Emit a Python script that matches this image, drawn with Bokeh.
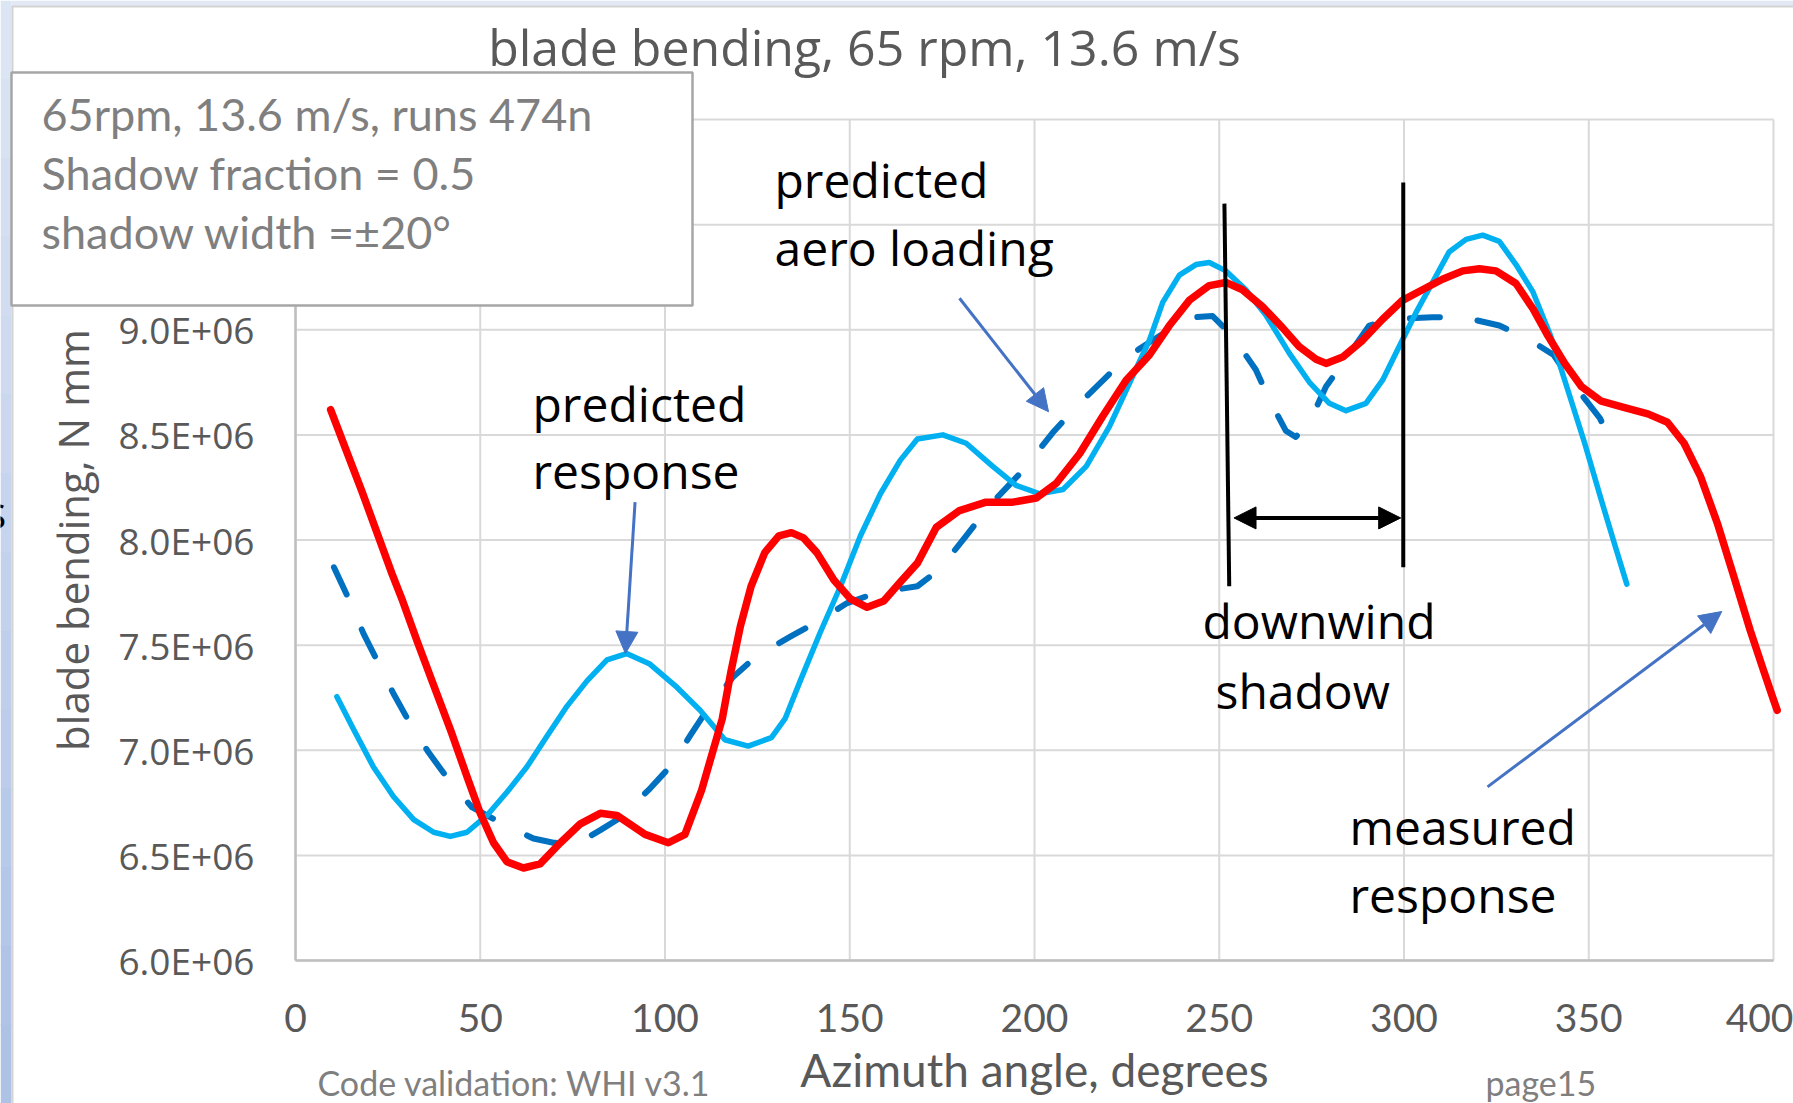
from bokeh.plotting import figure
from bokeh.models import (Range1d, FixedTicker, Arrow, NormalHead, CustomJSTickFormatter)
from bokeh.core.properties import value
from bokeh.embed import file_html
from bokeh.resources import INLINE

# ---------------- data ----------------
measured_x = [9.5, 18.0, 26.1, 29.0, 32.9, 37.8, 42.3, 46.4, 50.0, 53.6, 57.2, 61.7, 66.2,
              71.7, 77.1, 82.5, 87.0, 94.6, 100.9, 105.4, 109.9, 115.5, 117.8, 120.4, 123.3,
              127.0, 130.8, 134.2, 137.5, 141.1, 145.7, 150.2, 154.7, 159.2, 163.7, 168.3,
              173.4, 179.7, 186.9, 194.1, 200.5, 205.9, 212.2, 218.5, 224.8, 231.1, 236.5,
              241.9, 247.3, 251.8, 256.3, 261.7, 267.1, 271.6, 276.2, 278.9, 283.4, 288.8,
              294.2, 299.6, 305.0, 310.4, 315.9, 320.4, 324.9, 330.3, 334.9, 339.0, 343.5,
              348.0, 353.4, 359.7, 366.0, 371.3, 375.8, 380.3, 384.8, 389.2, 393.7, 397.3,
              400.0, 401.0]
measured_y = [8.62, 8.23, 7.84, 7.71, 7.52, 7.29, 7.08, 6.875, 6.70, 6.56, 6.47, 6.44, 6.46,
              6.56, 6.65, 6.70, 6.69, 6.60, 6.56, 6.60, 6.81, 7.15, 7.37, 7.59, 7.78,
              7.94, 8.02, 8.035, 8.01, 7.94, 7.81, 7.72, 7.68, 7.71, 7.80, 7.89,
              8.06, 8.14, 8.18, 8.18, 8.20, 8.27, 8.41, 8.59, 8.76, 8.88, 9.02,
              9.14, 9.21, 9.225, 9.19, 9.11, 9.01, 8.92, 8.86, 8.84, 8.87, 8.95,
              9.05, 9.14, 9.19, 9.24, 9.28, 9.29, 9.28, 9.22, 9.10, 8.97, 8.84,
              8.73, 8.66, 8.63, 8.60, 8.56, 8.46, 8.30, 8.08, 7.83, 7.57, 7.38,
              7.24, 7.19]

response_x = [11.2, 15.7, 21.1, 26.5, 32.0, 37.4, 41.9, 46.4, 51.8, 57.2, 62.6, 68.0, 73.5,
              78.9, 84.3, 89.6, 95.9, 103.2, 109.5, 116.2, 122.5, 128.8, 132.5, 136.6, 142.0,
              147.5, 152.9, 158.3, 163.7, 168.3, 175.2, 181.5, 188.7, 195.0, 201.4, 207.7,
              214.0, 220.3, 226.6, 231.1, 234.7, 239.2, 243.7, 247.3, 251.8, 257.2, 262.6,
              268.9, 274.4, 279.8, 284.3, 289.7, 294.2, 298.7, 303.2, 307.7, 312.2, 316.8,
              321.3, 325.8, 330.3, 334.9, 339.7, 344.4, 348.9, 353.4, 357.0, 360.3]
response_y = [7.255, 7.10, 6.92, 6.78, 6.67, 6.61, 6.59, 6.61, 6.69, 6.80, 6.92, 7.065, 7.21,
              7.33, 7.43, 7.46, 7.41, 7.30, 7.19, 7.05, 7.02, 7.06, 7.15, 7.33, 7.56,
              7.78, 8.02, 8.22, 8.38, 8.48, 8.50, 8.46, 8.35, 8.26, 8.22, 8.24,
              8.35, 8.54, 8.78, 8.95, 9.13, 9.26, 9.31, 9.32, 9.28, 9.19, 9.07,
              8.89, 8.75, 8.65, 8.615, 8.65, 8.76, 8.92, 9.08, 9.225, 9.37, 9.43,
              9.45, 9.42, 9.31, 9.18, 8.97, 8.71, 8.46, 8.19, 7.98, 7.79]

aero_x = [10.4, 14.4, 18.4, 22.0, 26.5, 30.6, 36.0, 41.0, 47.7, 55.0, 64.4, 69.8, 76.6,
          82.5, 88.0, 95.5, 101.8, 107.2, 111.3, 118.5, 124.9, 133.9, 141.1, 149.3, 157.4,
          168.3, 174.3, 181.5, 188.7, 196.8, 204.9, 212.2, 220.3, 228.4, 238.3, 243.7,
          248.2, 253.6, 259.9, 263.5, 268.0, 270.7, 274.4, 278.9, 283.4, 290.6, 296.9,
          307.7, 315.9, 325.8, 333.3, 340.5, 345.9, 353.0, 356.5]
aero_y = [7.87, 7.72, 7.555, 7.43, 7.27, 7.14, 6.99, 6.87, 6.73, 6.66, 6.58, 6.56, 6.56,
          6.62, 6.68, 6.81, 6.93, 7.08, 7.19, 7.35, 7.45, 7.54, 7.61, 7.70, 7.75,
          7.78, 7.86, 8.02, 8.18, 8.33, 8.51, 8.65, 8.79, 8.91, 9.02, 9.06,
          9.065, 8.97, 8.81, 8.67, 8.52, 8.49, 8.56, 8.73, 8.84, 9.02, 9.05,
          9.06, 9.06, 9.02, 8.96, 8.88, 8.74, 8.58, 8.45]

SCALE = 1e6  # values above are in units of 1E+06 N mm
measured_y = [v * SCALE for v in measured_y]
response_y = [v * SCALE for v in response_y]
aero_y = [v * SCALE for v in aero_y]

x_ticks = [0, 50, 100, 150, 200, 250, 300, 350, 400]
y_label_ticks = [6.0e6, 6.5e6, 7.0e6, 7.5e6, 8.0e6, 8.5e6, 9.0e6]
y_grid_ticks = [6.0e6, 6.5e6, 7.0e6, 7.5e6, 8.0e6, 8.5e6, 9.0e6, 9.5e6, 10.0e6]

title_text = "blade bending, 65 rpm, 13.6 m/s"
box_lines = ["65rpm, 13.6 m/s, runs 474n", "Shadow fraction = 0.5", "shadow width =\u00b120\u00b0"]
x_title = "Azimuth angle, degrees"
y_title = "blade bending, N mm"

# ---------------- geometry ----------------
W, H = 1793, 1103
FL, FR, FT, FB = 295, 1773, 119, 960        # pixel box of the data area
X0, X1, Y0, Y1 = 0, 400, 6.0e6, 10.0e6


def dx(px):
    return X0 + (px - FL) * (X1 - X0) / (FR - FL)


def dy(py):
    return Y0 + (FB - py) * (Y1 - Y0) / (FB - FT)


def base(py, size):
    # baseline correction for alphabetic text
    return dy(py - 0.38 * size)


p = figure(width=W, height=H, x_range=Range1d(dx(0), dx(W)), y_range=Range1d(dy(H), dy(0)),
           output_backend="svg", toolbar_location=None, min_border=0)
p.outline_line_color = None
p.background_fill_color = "white"
p.border_fill_color = "white"
p.xgrid.visible = False
p.ygrid.visible = False

# slide background strips
n_band = 14
band_left, band_right, band_top, band_bot, band_col = [], [], [], [], []
for i in range(n_band):
    t = i / (n_band - 1)
    band_left.append(dx(0))
    band_right.append(dx(11))
    band_top.append(dy(i * H / n_band))
    band_bot.append(dy((i + 1) * H / n_band + 1))
    band_col.append("#%02X%02X%02X" % (int(0xDC + (0xAE - 0xDC) * t),
                                       int(0xE5 + (0xC2 - 0xE5) * t),
                                       int(0xF4 + (0xE6 - 0xF4) * t)))
p.quad(left=band_left, right=band_right, top=band_top, bottom=band_bot,
       fill_color=band_col, line_color=None)
p.quad(left=[dx(11)], right=[dx(W)], top=[dy(0)], bottom=[dy(6)],
       fill_color="#E2E8F4", line_color=None)
p.segment([dx(12), dx(11)], [dy(6), dy(6)], [dx(12), dx(W)], [dy(H), dy(6)],
          line_color="#D3D3D3", line_width=2)

# grid lines
p.segment(x_ticks, [Y0] * len(x_ticks), x_ticks, [Y1] * len(x_ticks),
          line_color="#D9D9D9", line_width=2)
p.segment([X0] * len(y_grid_ticks), y_grid_ticks, [X1] * len(y_grid_ticks), y_grid_ticks,
          line_color="#D9D9D9", line_width=2)
# left frame line (stops under the info box)
p.segment([X0], [Y0], [X0], [dy(306)], line_color="#BFBFBF", line_width=2.5)

# axes, drawn at fixed positions of the data area
p.xaxis.fixed_location = Y0
p.yaxis.fixed_location = X0
p.xaxis.bounds = (X0, X1)
p.yaxis.bounds = (Y0, Y1)
p.xaxis.ticker = FixedTicker(ticks=x_ticks)
p.yaxis.ticker = FixedTicker(ticks=y_label_ticks)
p.yaxis.formatter = CustomJSTickFormatter(code="return (tick/1e6).toFixed(1) + 'E+06';")
for ax in (p.xaxis, p.yaxis):
    ax.axis_line_color = "#BFBFBF"
    ax.axis_line_width = 2.5
    ax.major_tick_line_color = None
    ax.minor_tick_line_color = None
    ax.major_tick_out = 0
    ax.major_tick_in = 0
    ax.minor_tick_out = 0
    ax.minor_tick_in = 0
    ax.major_label_text_color = "#595959"
    ax.axis_label_text_color = "#595959"
    ax.axis_label_text_font_style = "normal"
p.yaxis.axis_line_color = None

p.xaxis.major_label_text_font = "Lato"
p.xaxis.major_label_text_font_size = "39px"
p.xaxis.major_label_standoff = 43
p.xaxis.axis_label = x_title
p.xaxis.axis_label_text_font = "Lato"
p.xaxis.axis_label_text_font_size = "46px"
p.xaxis.axis_label_standoff = 7

p.yaxis.major_label_text_font = "Open Sans"
p.yaxis.major_label_text_font_size = "37px"
p.yaxis.major_label_standoff = 41
p.yaxis.axis_label = y_title
p.yaxis.axis_label_text_font = "Open Sans"
p.yaxis.axis_label_text_font_size = "42px"
p.yaxis.axis_label_standoff = 14

# series
p.line(aero_x, aero_y, line_color="#0070C0", line_width=6, line_dash="30 38",
       line_cap="round", line_join="round")
p.line(response_x, response_y, line_color="#00B0F0", line_width=5.5,
       line_cap="round", line_join="round")
p.line(measured_x, measured_y, line_color="#FF0000", line_width=7.5,
       line_cap="round", line_join="round")

# shadow boundaries
shadow_x0 = [251.4, 299.8]
shadow_x1 = [252.7, 299.8]
shadow_top = [9.60e6, 9.70e6]
shadow_bot = [7.78e6, 7.87e6]
p.segment(shadow_x0, shadow_top, shadow_x1, shadow_bot, line_color="black", line_width=4)
p.add_layout(Arrow(start=NormalHead(size=22, fill_color="black", line_color="black"),
                   end=NormalHead(size=22, fill_color="black", line_color="black"),
                   x_start=254.0, y_start=8.105e6, x_end=299.1, y_end=8.105e6,
                   line_color="black", line_width=4))

# blue pointer arrows
arrow_col = "#4472C4"
for (xs, ys, xe, ye) in [(179.7, 9.15e6, 203.8, 8.61e6),
                         (91.9, 8.18e6, 89.3, 7.46e6),
                         (322.6, 6.826e6, 386.0, 7.66e6)]:
    p.add_layout(Arrow(end=NormalHead(size=22, fill_color=arrow_col, line_color=arrow_col),
                       x_start=xs, y_start=ys, x_end=xe, y_end=ye,
                       line_color=arrow_col, line_width=3))

# annotation texts
ann_text = ["predicted", "aero loading", "predicted", "response", "downwind", "shadow",
            "measured", "response"]
ann_px = [774, 774, 532, 532, 1202, 1215, 1349, 1349]
ann_py = [197, 265, 421, 488, 638, 708, 844, 912]
p.text([dx(v) for v in ann_px], [base(v, 48) for v in ann_py], text=ann_text,
       text_font=value("Open Sans"), text_font_size="48px", text_color="black",
       text_baseline="alphabetic", text_align="left")

# info box
p.quad(left=[dx(11)], right=[dx(692)], top=[dy(72)], bottom=[dy(305)],
       fill_color="white", line_color="#A6A6A6", line_width=2.5)
p.text([dx(41)] * 3, [base(v, 45) for v in (131, 190, 249)], text=box_lines,
       text_font=value("Lato"), text_font_size="45px", text_color="#7F7F7F",
       text_baseline="alphabetic", text_align="left")

# title
p.text([dx(864)], [base(65, 50)], text=[title_text], text_font=value("Open Sans"),
       text_font_size="50px", text_color="#595959",
       text_baseline="alphabetic", text_align="center")

# footer texts
p.text([dx(317), dx(1485)], [base(1095, 34)] * 2, text=["Code validation: WHI v3.1", "page15"],
       text_font=value("Lato"), text_font_size="34px", text_color="#7F7F7F",
       text_baseline="alphabetic", text_align="left")
# cut-off letter at the left edge of the slide
p.text([dx(-16)], [base(528, 46)], text=["s"], text_font=value("Open Sans"),
       text_font_size="46px", text_color="black",
       text_baseline="alphabetic", text_align="left")

open("out.html", "w").write(file_html(p, INLINE))
